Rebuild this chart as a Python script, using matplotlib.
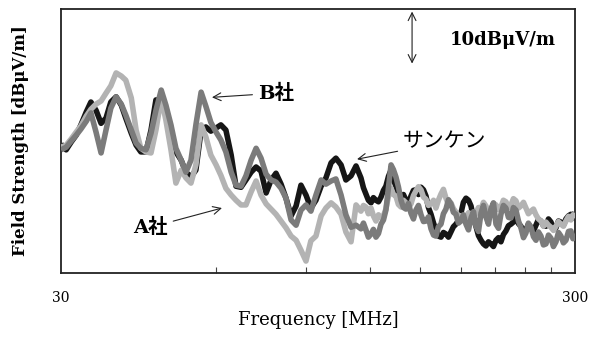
import matplotlib
matplotlib.use("Agg")
import matplotlib.pyplot as plt
from matplotlib.ticker import NullFormatter

# Frequency sweep points [MHz] (coarse part, then finer part)
freq_low = [30.0, 30.7, 31.4, 32.1, 32.8, 33.6, 34.3, 35.1, 35.9, 36.7, 37.5, 38.4, 39.3, 40.1,
            41.1, 42.0, 42.9, 43.9, 44.9, 45.9, 47.0, 48.0, 49.1, 50.2, 51.4, 52.5, 53.7, 54.9,
            56.2, 57.4, 58.7, 60.1, 61.4, 62.8, 64.3, 65.7, 67.2, 68.7, 70.3, 71.9, 73.5, 75.2,
            76.9, 78.6, 80.4, 82.2, 84.1, 86.0, 87.9, 89.9, 91.9, 94.0, 96.2, 98.3, 100.6, 102.8,
            105.2, 107.5, 110.0, 112.5]
freq_high = [115.0, 116.3, 117.6, 118.9, 120.3, 121.6, 123.0, 124.4, 125.8, 127.2, 128.6, 130.1,
             131.6, 133.0, 134.5, 136.0, 137.6, 139.1, 140.7, 142.3, 143.9, 145.5, 147.1, 148.8,
             150.5, 152.2, 153.9, 155.6, 157.4, 159.2, 160.9, 162.7, 164.6, 166.4, 168.3, 170.2,
             172.1, 174.0, 176.0, 178.0, 180.0, 182.0, 184.1, 186.2, 188.3, 190.4, 192.5, 194.7,
             196.9, 199.1, 201.3, 203.6, 205.9, 208.2, 210.6, 213.0, 215.3, 217.7, 220.2, 222.7,
             225.2, 227.7, 230.3, 232.9, 235.5, 238.2, 240.8, 243.5, 246.3, 249.1, 251.9, 254.7,
             257.6, 260.5, 263.4, 266.4, 269.4, 272.4, 275.5, 278.6, 281.7, 284.9, 288.1, 291.4,
             294.6, 297.3, 300.0]

# Field strength [dBuV/m] - B社
level_b_low = [43.7, 44.2, 45.4, 46.5, 47.7, 49.2, 50.8, 47.1, 43.1, 47.5, 51.7, 53.9, 52.5, 50.4,
               47.5, 45.0, 44.0, 43.7, 46.9, 51.3, 55.2, 52.3, 48.5, 44.0, 41.7, 39.4, 41.7, 48.5,
               54.8, 52.1, 49.0, 47.1, 45.6, 43.3, 39.4, 36.9, 36.7, 38.7, 41.7, 44.0, 42.1, 39.0,
               37.9, 37.5, 36.3, 34.4, 30.2, 29.2, 32.1, 33.1, 31.9, 35.0, 37.9, 37.1, 37.7, 38.1,
               35.0, 31.2, 28.8, 29.2]
level_b_high = [28.5, 29.6, 28.3, 26.9, 27.5, 28.4, 26.9, 27.6, 29.4, 30.2, 32.1, 36.5, 40.8, 39.9,
                38.5, 36.6, 34.0, 32.6, 32.3, 33.4, 31.5, 30.4, 32.1, 33.0, 31.2, 29.9, 30.0, 30.8,
                28.5, 27.3, 27.1, 28.9, 29.4, 31.4, 32.3, 34.1, 33.3, 31.7, 31.3, 29.6, 30.0, 31.2,
                29.4, 28.3, 30.6, 31.8, 29.0, 28.0, 31.5, 33.0, 30.8, 29.4, 32.3, 33.5, 29.4, 28.6,
                31.3, 33.0, 32.5, 30.7, 30.6, 32.6, 32.1, 30.0, 28.7, 26.8, 27.7, 29.6, 28.8, 27.0,
                26.3, 27.9, 27.1, 25.4, 25.6, 27.3, 26.7, 25.1, 26.0, 27.8, 27.1, 25.8, 26.3, 28.0,
                28.1, 26.6, 27.5]

# サンケン
level_sanken_low = [44.8, 43.7, 45.2, 46.5, 48.5, 51.0, 52.9, 51.3, 48.8, 49.8, 52.9, 53.9, 52.3,
                    49.8, 46.9, 44.6, 43.3, 43.3, 47.5, 53.3, 53.3, 50.4, 46.5, 43.3, 41.7, 39.4,
                    38.5, 39.8, 47.5, 48.1, 47.3, 47.9, 48.5, 47.5, 42.7, 36.7, 36.5, 37.9, 39.4,
                    40.4, 39.6, 35.4, 37.9, 39.2, 37.1, 34.4, 31.0, 32.9, 36.9, 35.0, 32.5, 34.0,
                    36.7, 38.3, 41.2, 42.1, 40.8, 37.9, 38.7, 40.6]
level_sanken_high = [38.3, 36.4, 35.2, 34.0, 33.5, 34.5, 34.0, 33.7, 34.6, 35.9, 36.7, 38.6, 39.8,
                     38.0, 36.7, 35.2, 34.6, 35.1, 34.0, 33.6, 34.8, 35.9, 36.0, 35.1, 36.5, 36.0,
                     34.8, 32.6, 31.3, 29.6, 28.3, 27.1, 26.9, 27.8, 27.5, 26.9, 27.9, 28.9, 29.4,
                     30.1, 31.5, 33.6, 34.4, 34.0, 32.9, 30.5, 29.0, 27.2, 26.3, 25.6, 25.2, 26.0,
                     25.6, 25.1, 26.3, 26.8, 26.0, 27.4, 28.1, 29.1, 29.4, 29.8, 30.8, 29.5, 29.0,
                     28.0, 28.3, 29.4, 28.8, 28.1, 29.2, 30.3, 30.0, 29.1, 29.0, 30.4, 29.8, 28.6,
                     28.7, 30.0, 29.8, 29.2, 30.4, 31.0, 31.3, 30.6, 31.7]

# A社
level_a_low = [44.2, 44.6, 45.8, 47.1, 48.3, 50.2, 51.5, 52.5, 53.1, 54.6, 56.0, 58.5, 57.9, 57.1,
               53.7, 47.5, 44.0, 43.3, 43.1, 47.5, 53.7, 49.4, 43.7, 37.3, 39.8, 38.3, 37.3, 40.8,
               48.5, 46.2, 42.7, 40.8, 38.8, 36.3, 35.0, 34.0, 33.1, 33.1, 35.6, 37.7, 35.0, 33.3,
               32.3, 31.3, 30.0, 28.7, 27.1, 26.3, 24.4, 22.3, 26.2, 27.1, 31.0, 32.5, 33.5, 32.7,
               31.3, 27.9, 26.0, 33.1]
level_a_high = [31.9, 33.0, 32.7, 31.4, 32.5, 31.0, 30.0, 31.2, 30.6, 31.0, 32.3, 34.8, 36.3, 35.1,
                34.8, 33.2, 32.7, 34.0, 33.5, 32.6, 33.3, 34.9, 35.8, 36.6, 36.0, 34.6, 34.2, 33.0,
                33.3, 34.0, 32.5, 34.0, 35.2, 36.1, 34.4, 33.2, 33.5, 32.4, 31.7, 31.0, 31.0, 30.1,
                30.8, 31.6, 31.3, 30.5, 31.5, 32.6, 32.3, 33.6, 32.9, 31.8, 32.1, 33.4, 33.1, 32.2,
                32.7, 34.0, 33.7, 32.6, 33.1, 34.3, 33.9, 32.5, 32.9, 33.6, 32.5, 31.4, 31.9, 32.3,
                31.2, 30.4, 30.0, 29.0, 29.8, 29.2, 28.8, 28.2, 29.0, 29.9, 29.4, 29.0, 30.0, 30.9,
                30.2, 31.2, 30.8]

minor_ticks = [60, 90, 120, 150, 180, 210, 240, 270]

freq = freq_low + freq_high
level_b = level_b_low + level_b_high
level_sanken = level_sanken_low + level_sanken_high
level_a = level_a_low + level_a_high

LATIN = "DejaVu Serif"
JP = [LATIN, "Noto Sans CJK JP"]

fig = plt.figure(figsize=(6.01, 3.38), dpi=100)
ax = fig.add_axes([0.1015, 0.1923, 0.8552, 0.7811])

kw = dict(lw=4.0, solid_joinstyle="round", solid_capstyle="butt")
ax.plot(freq, level_sanken, color="#161616", zorder=2, **kw)
ax.plot(freq, level_a, color="#b3b3b3", zorder=3, **kw)
ax.plot(freq, level_b, color="#7b7b7b", zorder=4, **kw)

ax.set_xscale("log")
ax.set_xlim(30, 300)
ax.set_ylim(20.0, 70.8)

ax.set_xticks([30, 300])
ax.set_xticklabels(["30", "300"], family=LATIN, fontsize=10)
ax.tick_params(axis="x", which="major", length=0, pad=13)
ax.set_xticks(minor_ticks, minor=True)
ax.xaxis.set_minor_formatter(NullFormatter())
ax.tick_params(axis="x", which="minor", direction="in", length=4, width=0.8, color="#444444")
ax.set_yticks([])

for s in ax.spines.values():
    s.set_linewidth(1.3)
    s.set_color("#222222")

ax.set_xlabel("Frequency [MHz]", family=LATIN, fontsize=13, labelpad=4)
ax.set_ylabel("Field Strength [dBμV/m]", family=LATIN, fontsize=12, fontweight="bold",
              labelpad=23)

arw = dict(arrowstyle="->", lw=0.8, color="#222222", mutation_scale=14, shrinkA=2, shrinkB=0)

ax.annotate("B社", xy=(59.0, 53.8), xytext=(72.5, 54.6), ha="left", va="center",
            family=JP, fontsize=14, fontweight="bold", arrowprops=arw)
ax.annotate("A社", xy=(61.7, 32.5), xytext=(48.4, 28.8), ha="right", va="center",
            family=JP, fontsize=14, fontweight="bold", arrowprops=arw)
ax.annotate("サンケン", xy=(113.0, 41.9), xytext=(138.9, 45.2), ha="left", va="center",
            family=JP, fontsize=15, arrowprops=arw)

ax.annotate("", xy=(144.6, 70.3), xytext=(144.6, 60.3),
            arrowprops=dict(arrowstyle="<->", lw=0.8, color="#222222", mutation_scale=14,
                            shrinkA=0, shrinkB=0))
ax.text(171.4, 64.8, "10dBμV/m", family=LATIN, fontsize=13, fontweight="bold",
        ha="left", va="center")

fig.savefig("out.png", dpi=100)
